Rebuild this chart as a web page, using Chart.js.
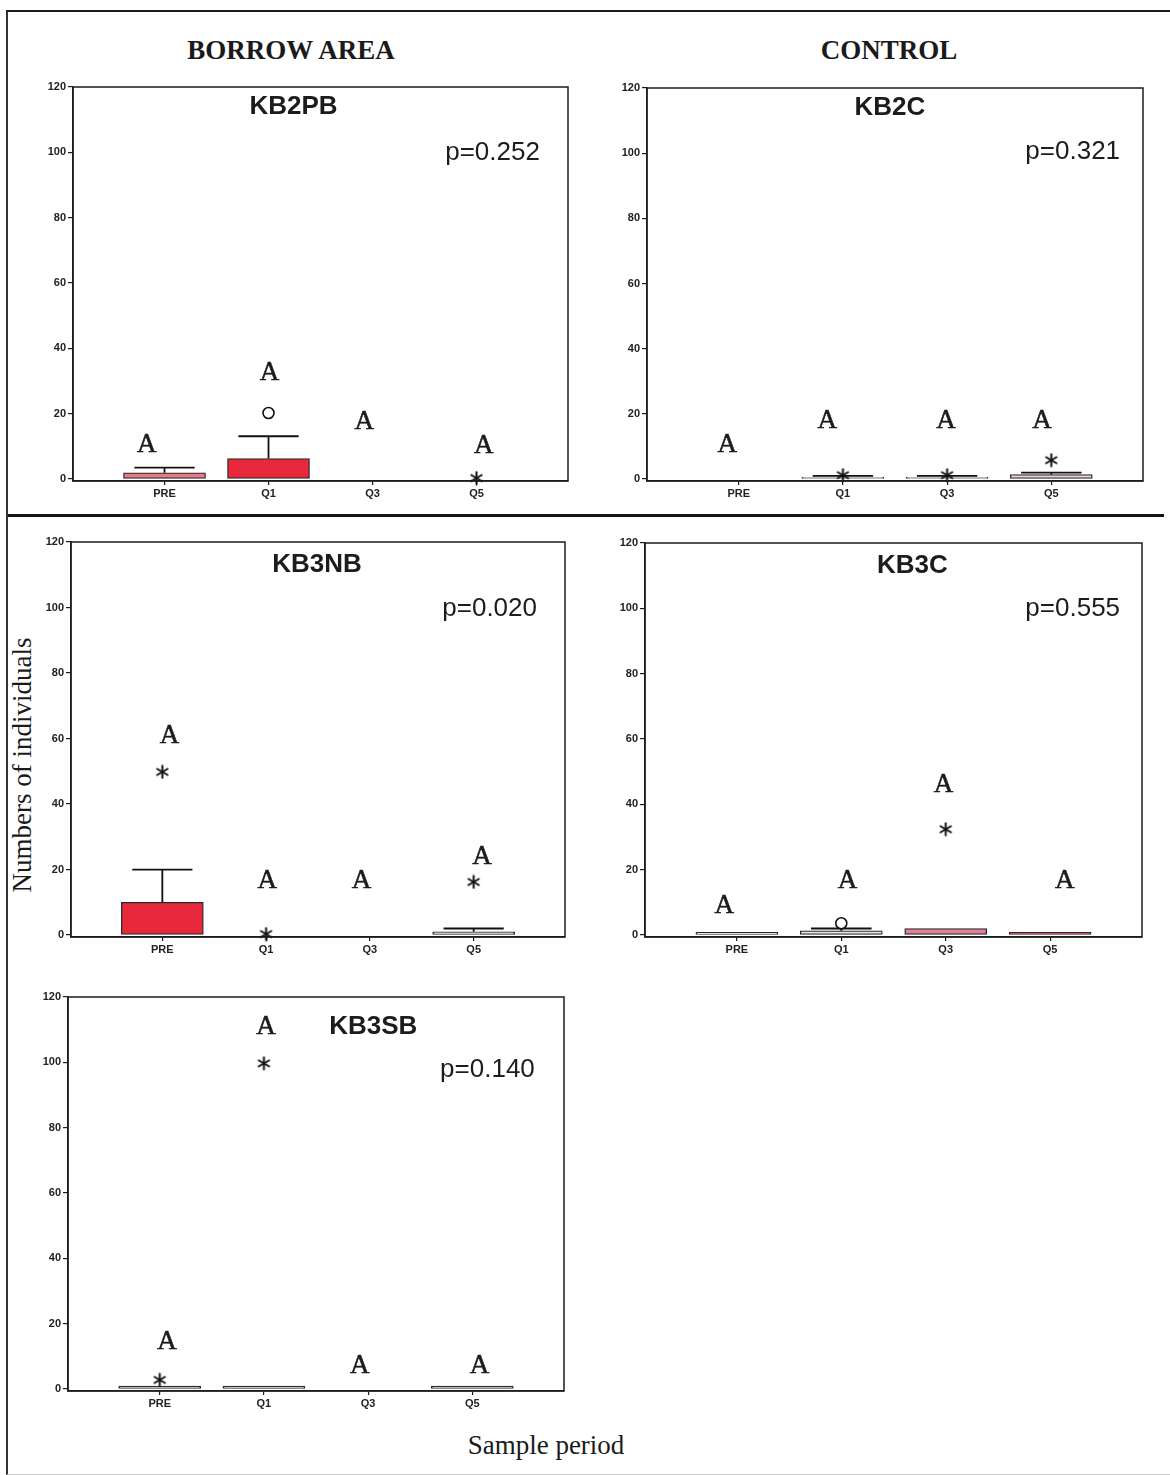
<!DOCTYPE html>
<html>
<head>
<meta charset="utf-8">
<script src="https://cdn.jsdelivr.net/npm/chart.js@4.4.1/dist/chart.umd.min.js"></script>
<style>
  body { margin: 0; background: #fff; }
  #page { position: relative; width: 1170px; height: 1475px; overflow: hidden; background: #fff; }
  .frame { position: absolute; left: 6px; top: 10px; width: 1200px; height: 1462px;
           border-left: 2px solid #333; border-top: 2px solid #1a1a1a; border-bottom: 1px solid #c8c8c8; }
  .sep { position: absolute; left: 8px; top: 514px; width: 1156px; height: 3px; background: #151515; }
  .serif { position: absolute; font-family: "Liberation Serif", "DejaVu Serif", serif; color: #1a1a1a;
           transform: translate(-50%, -50%); white-space: nowrap; }
  .head { font-weight: bold; font-size: 27px; top: 50px; }
  canvas { position: absolute; }
</style>
</head>
<body>
<div id="page">
  <div class="frame"></div>
  <div class="sep"></div>
  <div class="serif head" style="left:291px">BORROW AREA</div>
  <div class="serif head" style="left:889px">CONTROL</div>
  <div class="serif" style="left:22px; top:765px; font-size:27px; transform: translate(-50%, -50%) rotate(-90deg);">Numbers of individuals</div>
  <div class="serif" style="left:546px; top:1445px; font-size:27px;">Sample period</div>
</div>
<script>
// sample periods and y tick labels
const categories = ['PRE', 'Q1', 'Q3', 'Q5'];
const yTicks = [0, 20, 40, 60, 80, 100, 120];

const panelNames = ['KB2PB', 'KB2C', 'KB3NB', 'KB3C', 'KB3SB'];
const pLabels = ['p=0.252', 'p=0.321', 'p=0.020', 'p=0.555', 'p=0.140'];

// box plot values per panel, one entry per sample period
const boxLow = [
    [0, 0, 0, 0],
    [0, 0, 0, 0],
    [0, 0, 0, 0],
    [0, 0, 0, 0],
    [0, 0, 0, 0]
];
const boxHigh = [
    [1.9, 6.3, 0, 0],
    [0, 0.5, 0.5, 1.4],
    [10, 0, 0, 1],
    [0.8, 1.3, 2, 0.8],
    [0.9, 0.9, 0, 0.9]
];
const whiskerHigh = [
    [3.5, 13.1, 0, 0],
    [0, 1, 1, 2],
    [20, 0, 0, 2],
    [0.8, 2, 2, 0.8],
    [0.9, 0.9, 0, 0.9]
];
// outliers (circles) and extremes (asterisks), null = none
const outlierCircles = [
    [null, 20.2, null, null],
    [null, null, null, null],
    [null, null, null, null],
    [null, 3.6, null, null],
    [null, null, null, null]
];
const extremeStars = [
    [null, null, null, 0.3],
    [null, 1.2, 1.2, 5.8],
    [49.8, 0.3, null, 16.2],
    [null, null, 32.4, null],
    [2.8, 99.7, null, null]
];
// grouping letters "A": height and small sideways shift
const letterY = [
    [10.4, 32.4, 17.4, 10.1],
    [10.4, 17.7, 17.7, 17.7],
    [60.9, 16.5, 16.5, 23.9],
    [8.9, 16.5, 45.9, 16.5],
    [14.4, 110.7, 7, 7]
];
const letterShift = [
    [-0.17, 0.01, -0.08, 0.07],
    [-0.11, -0.15, -0.01, -0.09],
    [0.07, 0.01, -0.08, 0.08],
    [-0.12, 0.06, -0.02, 0.14],
    [0.07, 0.02, -0.08, 0.07]
];
// where the panel name and p value sit, in axis units
const titleAt = [[2.24, 114], [2.45, 114], [2.49, 113], [2.68, 113], [3.05, 111]];
const pAt = [[4.61, 100], [4.66, 100.3], [4.61, 99.7], [4.67, 99.7], [4.6, 97.6]];

// styles
const boxFill = [
    ['#e77a87', '#e8293d', '#ffffff', '#ffffff'],
    ['#ffffff', '#f1dfe2', '#f1dfe2', '#efd3d8'],
    ['#e8293d', '#ffffff', '#ffffff', '#f4e4e7'],
    ['#f6eaec', '#f3e6e8', '#dd8098', '#d9232f'],
    ['#eed6dc', '#f7f0f1', '#ffffff', '#f2dde1']
];
// plot areas on the page: left, top, right, bottom
const plotRects = [
    [73, 87, 568, 481],
    [647, 88, 1143, 481],
    [71, 542, 565, 937],
    [645, 543, 1142, 937],
    [68, 997, 564, 1391]
];
const capHalf = 0.29;
const ink = '#1c1c1c';
const SANS = '"Liberation Sans", Arial, sans-serif';
const SERIF = '"Liberation Serif", "DejaVu Serif", serif';

// six-spoke asterisk used for the extreme values
function asteriskImage() {
    const c = document.createElement('canvas');
    c.width = 15; c.height = 15;
    const g = c.getContext('2d');
    g.strokeStyle = '#111';
    g.lineWidth = 2;
    g.lineCap = 'round';
    for (let k = 0; k < 3; k++) {
        const ang = Math.PI / 2 + k * Math.PI / 3;
        const dx = Math.cos(ang) * 6, dy = Math.sin(ang) * 6;
        g.beginPath();
        g.moveTo(7.5 - dx, 7.5 - dy);
        g.lineTo(7.5 + dx, 7.5 + dy);
        g.stroke();
    }
    return c;
}
const asterisk = asteriskImage();

function whiskerPoints(p) {
    const pts = [];
    categories.forEach((c, i) => {
        const x = i + 1;
        if (whiskerHigh[p][i] > boxHigh[p][i]) {
            pts.push({ x: x, y: boxHigh[p][i] }, { x: x, y: whiskerHigh[p][i] }, { x: x, y: null });
            pts.push({ x: x - capHalf, y: whiskerHigh[p][i] }, { x: x + capHalf, y: whiskerHigh[p][i] }, { x: x, y: null });
        }
    });
    return pts;
}

function markerPoints(list) {
    const pts = [];
    list.forEach((v, i) => { if (v !== null) pts.push({ x: i + 1, y: v }); });
    return pts;
}

function makePanel(p) {
    const r = plotRects[p];
    const canvas = document.createElement('canvas');
    const w = r[2] - r[0] + 70, h = r[3] - r[1] + 45;
    canvas.width = w; canvas.height = h;
    canvas.style.left = (r[0] - 55) + 'px';
    canvas.style.top = (r[1] - 15) + 'px';
    canvas.style.width = w + 'px';
    canvas.style.height = h + 'px';
    document.getElementById('page').appendChild(canvas);

    // frame, panel name, p value and the "A" letters
    const panelText = {
        id: 'panelText' + p,
        afterDraw(chart) {
            const ctx = chart.ctx, a = chart.chartArea;
            const xs = chart.scales.x, ys = chart.scales.y;
            ctx.save();
            ctx.strokeStyle = ink;
            ctx.lineWidth = 1.5;
            ctx.strokeRect(a.left, a.top, a.right - a.left, a.bottom - a.top);
            ctx.fillStyle = ink;
            ctx.textBaseline = 'middle';
            ctx.textAlign = 'center';
            ctx.font = 'bold 26px ' + SANS;
            ctx.fillText(panelNames[p], xs.getPixelForValue(titleAt[p][0]), ys.getPixelForValue(titleAt[p][1]));
            ctx.textAlign = 'right';
            ctx.font = '26px ' + SANS;
            ctx.fillText(pLabels[p], xs.getPixelForValue(pAt[p][0]), ys.getPixelForValue(pAt[p][1]));
            ctx.textAlign = 'center';
            ctx.font = '27px ' + SERIF;
            ctx.lineWidth = 0.6;
            categories.forEach((c, i) => {
                const lx = xs.getPixelForValue(i + 1 + letterShift[p][i]);
                const ly = ys.getPixelForValue(letterY[p][i]);
                ctx.fillText('A', lx, ly);
                ctx.strokeText('A', lx, ly);
            });
            ctx.restore();
        }
    };

    new Chart(canvas, {
        type: 'bar',
        data: {
            datasets: [
                {
                    type: 'scatter',
                    data: markerPoints(extremeStars[p]),
                    pointStyle: asterisk,
                    pointRadius: 7,
                    clip: false,
                    order: 0
                },
                {
                    type: 'scatter',
                    data: markerPoints(outlierCircles[p]),
                    pointStyle: 'circle',
                    pointRadius: 5.5,
                    backgroundColor: '#fff',
                    borderColor: '#111',
                    borderWidth: 1.6,
                    clip: false,
                    order: 1
                },
                {
                    type: 'line',
                    data: whiskerPoints(p),
                    borderColor: '#111',
                    borderWidth: 1.8,
                    pointRadius: 0,
                    spanGaps: false,
                    fill: false,
                    clip: false,
                    order: 2
                },
                {
                    type: 'bar',
                    data: categories.map((c, i) => ({ x: i + 1, y: [boxLow[p][i], boxHigh[p][i]] })),
                    backgroundColor: boxFill[p],
                    borderColor: '#2a2a2a',
                    borderWidth: 1.3,
                    borderSkipped: false,
                    barThickness: 82,
                    order: 3
                }
            ]
        },
        options: {
            responsive: false,
            animation: false,
            devicePixelRatio: 1,
            layout: { padding: { left: 0, top: 15, right: 15, bottom: 0 } },
            plugins: { legend: { display: false }, tooltip: { enabled: false } },
            scales: {
                x: {
                    type: 'linear',
                    min: 0.12,
                    max: 4.88,
                    offset: false,
                    afterFit: s => { s.height = 30; },
                    afterBuildTicks: s => { s.ticks = categories.map((c, i) => ({ value: i + 1 })); },
                    grid: { display: true, offset: false, drawOnChartArea: false, drawTicks: true, tickLength: 4, color: ink, lineWidth: 1.2 },
                    border: { display: true, color: ink, width: 1.5 },
                    ticks: {
                        autoSkip: false,
                        maxRotation: 0,
                        padding: 2,
                        color: '#222',
                        font: { family: SANS, size: 11, weight: 'bold' },
                        callback: v => categories[v - 1]
                    }
                },
                y: {
                    type: 'linear',
                    min: -0.6,
                    max: 120,
                    afterFit: s => { s.width = 55; },
                    afterBuildTicks: s => { s.ticks = yTicks.map(v => ({ value: v })); },
                    grid: { display: true, drawOnChartArea: false, drawTicks: true, tickLength: 5, color: ink, lineWidth: 1.2 },
                    border: { display: true, color: ink, width: 1.5 },
                    ticks: {
                        padding: 2,
                        color: '#222',
                        font: { family: SANS, size: 11, weight: 'bold' }
                    }
                }
            }
        },
        plugins: [panelText]
    });
}

panelNames.forEach((n, p) => makePanel(p));
</script>
</body>
</html>
